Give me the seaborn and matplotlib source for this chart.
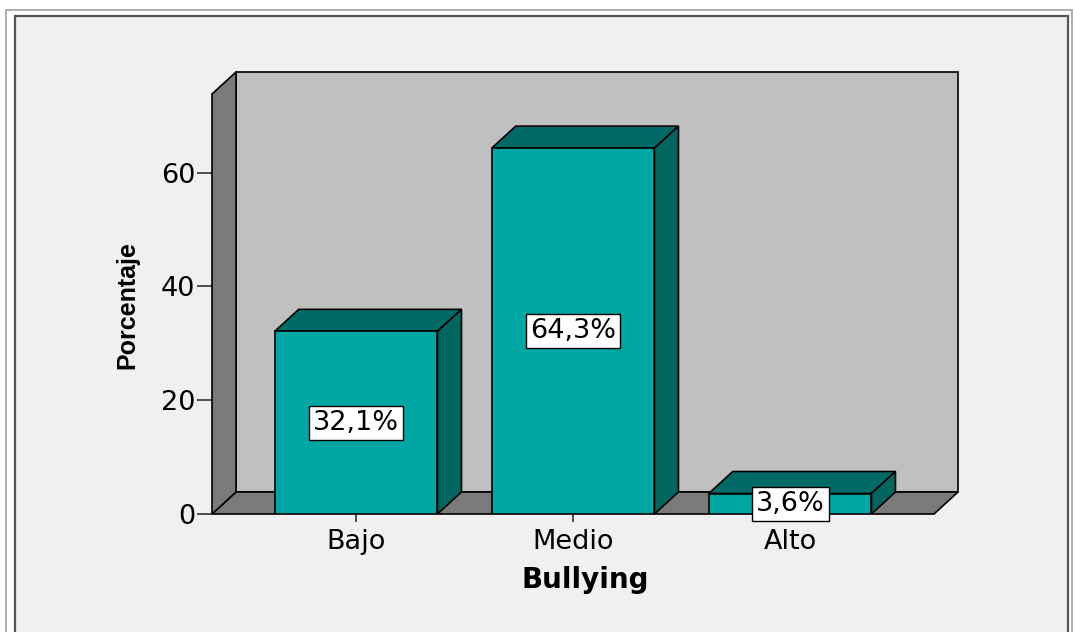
import matplotlib
matplotlib.use("Agg")
import matplotlib.pyplot as plt
import seaborn as sns
import pandas as pd
from matplotlib.patches import Polygon, Rectangle

# ---- data ----
categories = ["Bajo", "Medio", "Alto"]
percentages = [32.1, 64.3, 3.6]
labels = ["32,1%", "64,3%", "3,6%"]
y_ticks = [0, 20, 40, 60]

sns.set_theme(style="white")
plt.rcParams['font.family'] = ['DejaVu Sans']
plt.rcParams['text.color'] = 'black'
plt.rcParams['axes.labelcolor'] = 'black'
plt.rcParams['xtick.color'] = 'black'
plt.rcParams['ytick.color'] = 'black'

W, H = 1073, 632
fig = plt.figure(figsize=(W / 100, H / 100), dpi=100)
fig.patch.set_facecolor("white")

# outer frame
fig.patches.append(Rectangle((6 / W, -0.01), (1072 - 6) / W, (H - 10) / H + 0.01, transform=fig.transFigure,
                             facecolor="white", edgecolor="#a0a0a0", lw=1.2, zorder=-2))
fig.patches.append(Rectangle((15 / W, -0.01), (1068 - 15) / W, (H - 16) / H + 0.01, transform=fig.transFigure,
                             facecolor="#f0f0f0", edgecolor="#555555", lw=1.6, zorder=-1))

# axes in pixel geometry
px_left, px_right, px_top, px_bottom = 212, 958, 72, 514
ax = fig.add_axes([px_left / W, (H - px_bottom) / H, (px_right - px_left) / W, (px_bottom - px_top) / H])
ax.patch.set_alpha(0)
unit_y = 5.69
unit_x = 217.0
ymax = (px_bottom - px_top) / unit_y
xmin = -0.664
xmax = xmin + (px_right - px_left) / unit_x
dx = 24 / unit_x
dy = 22 / unit_y
xfront_right = xmax - dx

df = pd.DataFrame({"Bullying": categories, "Porcentaje": percentages})
sns.barplot(data=df, x="Bullying", y="Porcentaje", order=categories, color="#00a6a3",
            saturation=1, width=0.75, edgecolor="black", linewidth=1.2, ax=ax, zorder=5)

bars = [p for p in ax.patches]

ax.set_xlim(xmin, xmax)
ax.set_ylim(0, ymax)
for s in ax.spines.values():
    s.set_visible(False)

wall_kw = dict(edgecolor="black", lw=1.2, closed=True, zorder=1, clip_on=False)
# back wall
ax.add_patch(Polygon([(xmin + dx, dy), (xmax, dy), (xmax, ymax), (xmin + dx, ymax)],
                     facecolor="#c0c0c0", **wall_kw))
# floor
ax.add_patch(Polygon([(xmin, 0), (xfront_right, 0), (xmax, dy), (xmin + dx, dy)],
                     facecolor="#7a7a7a", **wall_kw))
# left wall
ax.add_patch(Polygon([(xmin, 0), (xmin + dx, dy), (xmin + dx, ymax), (xmin, ymax - dy)],
                     facecolor="#7a7a7a", **wall_kw))

# 3D faces of bars
for p in bars:
    x0 = p.get_x()
    x1 = x0 + p.get_width()
    v = p.get_height()
    ax.add_patch(Polygon([(x0, v), (x0 + dx, v + dy), (x1 + dx, v + dy), (x1, v)],
                         facecolor="#006b66", edgecolor="black", lw=1.2, zorder=4, clip_on=False))
    ax.add_patch(Polygon([(x1, 0), (x1 + dx, dy), (x1 + dx, v + dy), (x1, v)],
                         facecolor="#00665f", edgecolor="black", lw=1.2, zorder=4, clip_on=False))

# data labels
for i, (v, lab) in enumerate(zip(percentages, labels)):
    ax.text(i, v / 2, lab, ha="center", va="center", fontsize=19.5, color="black",
            zorder=10, bbox=dict(boxstyle="square,pad=0.15", facecolor="white", edgecolor="black", lw=1.0))

ax.set_yticks(y_ticks)
ax.set_yticklabels([str(t) for t in y_ticks], fontsize=19.5)
ax.set_xticks(range(len(categories)))
ax.set_xticklabels(categories, fontsize=19.5)
ax.tick_params(axis="y", length=11, width=1.2, color="#333333", pad=1, left=True)
ax.tick_params(axis="x", length=6, width=1.2, color="#333333", pad=5, bottom=True)
ax.set_xlabel("Bullying", fontsize=20, fontweight="bold", labelpad=8, color="black")
ax.set_ylabel("")
fig.text(127 / W, (H - 305) / H, "Porcentaje", rotation=90, ha="center", va="center",
         fontsize=18, fontweight="bold", color="black", family=["Liberation Sans", "DejaVu Sans"])
ax.grid(False)

fig.savefig("out.png", dpi=100)
